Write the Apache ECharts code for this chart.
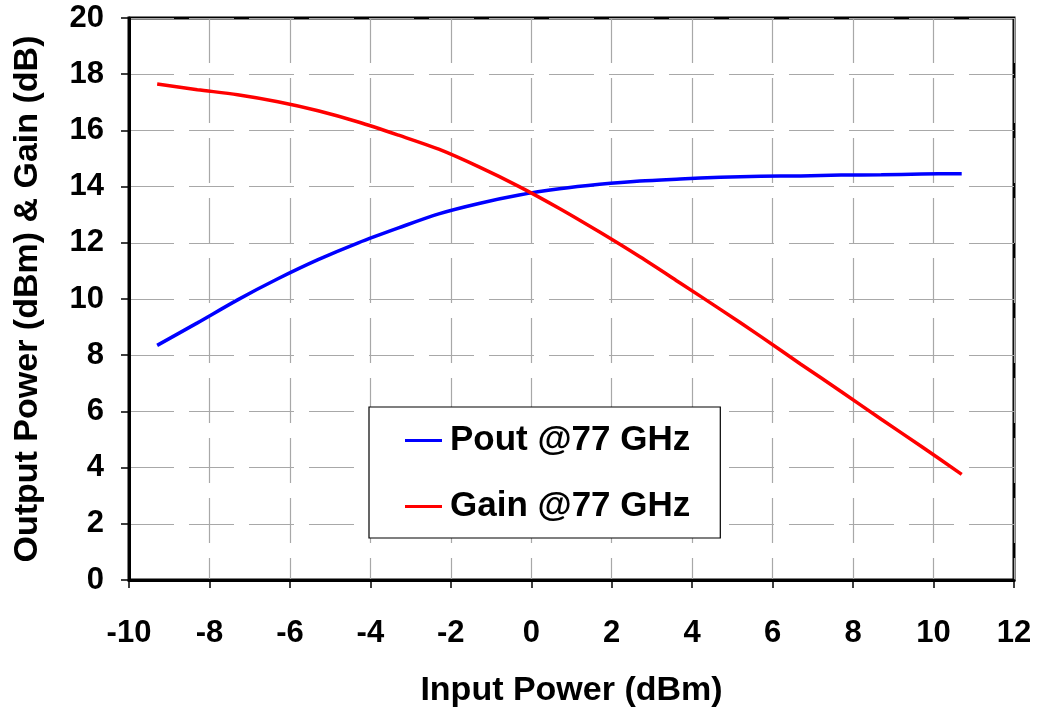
<!DOCTYPE html>
<html><head><meta charset="utf-8">
<script src="https://cdn.jsdelivr.net/npm/echarts@6/dist/echarts.min.js"></script>
<style>html,body{margin:0;padding:0;background:#fff}#c{width:1039px;height:713px}</style>
</head><body><div id="c"></div>
<script>
const inputPower = [-9.3,-8.3,-7.3,-6.3,-5.3,-4.3,-3.3,-2.3,-1.3,-0.3,0.7,1.7,2.7,3.7,4.7,5.7,6.7,7.7,8.7,9.7,10.7];
const poutValues = [8.35,9.15,9.97,10.72,11.4,12.0,12.53,13.03,13.4,13.7,13.92,14.08,14.2,14.27,14.33,14.37,14.38,14.41,14.42,14.45,14.46];
const gainValues = [17.65,17.45,17.27,17.02,16.7,16.3,15.83,15.33,14.7,14.0,13.22,12.38,11.5,10.57,9.63,8.67,7.68,6.71,5.72,4.75,3.76];
const xTicks = [-10,-8,-6,-4,-2,0,2,4,6,8,10,12];
const yTicks = [0,2,4,6,8,10,12,14,16,18,20];
const seriesNames = ['Pout @77 GHz','Gain @77 GHz'];

const FONT = 'Liberation Sans, Arial, Helvetica, sans-serif';
const chart = echarts.init(document.getElementById('c'), null, {renderer:'canvas'});
const gridLine = {show:true, lineStyle:{color:'#a8a8a8', width:1.2, type:[45,15]}};
chart.setOption({
  animation:false,
  backgroundColor:'#fff',
  grid:{left:129, right:25, top:18, bottom:132, show:true, borderColor:'#000', borderWidth:3, backgroundColor:'transparent'},
  xAxis:{type:'value', min:xTicks[0], max:xTicks[xTicks.length-1], interval:2,
    axisLine:{onZero:false, lineStyle:{color:'#000', width:3}},
    axisTick:{show:true, length:8, lineStyle:{color:'#000', width:1.5}},
    axisLabel:{color:'#000', fontFamily:FONT, fontWeight:'bold', fontSize:31, margin:38},
    splitLine:gridLine,
    name:'Input Power (dBm)', nameLocation:'middle', nameGap:94,
    nameTextStyle:{color:'#000', fontFamily:FONT, fontWeight:'bold', fontSize:34}},
  yAxis:{type:'value', min:yTicks[0], max:yTicks[yTicks.length-1], interval:2,
    axisLine:{show:true, onZero:false, lineStyle:{color:'#000', width:3}},
    axisTick:{show:true, length:8, lineStyle:{color:'#000', width:1.5}},
    axisLabel:{color:'#000', fontFamily:FONT, fontWeight:'bold', fontSize:31, margin:25},
    splitLine:gridLine,
    name:'Output Power (dBm) & Gain (dB)', nameLocation:'middle', nameGap:84,
    nameTextStyle:{color:'#000', fontFamily:FONT, fontWeight:'bold', fontSize:34}},
  legend:{orient:'vertical', left:369, top:407, backgroundColor:'#fff', borderColor:'#000', borderWidth:1.2,
    padding:[16,30,14,36], itemGap:31, icon:'rect', itemWidth:37, itemHeight:3,
    textStyle:{color:'#000', fontFamily:FONT, fontWeight:'bold', fontSize:35, lineHeight:35, padding:[0,0,0,3]},
    data:seriesNames},
  series:[
    {name:seriesNames[0], type:'line', data:inputPower.map((x,i)=>[x,poutValues[i]]), showSymbol:false, symbol:'none',
     smooth:0.3, lineStyle:{color:'#0000ff', width:3.5}, itemStyle:{color:'#0000ff'}},
    {name:seriesNames[1], type:'line', data:inputPower.map((x,i)=>[x,gainValues[i]]), showSymbol:false, symbol:'none',
     smooth:0.3, lineStyle:{color:'#ff0000', width:3.5}, itemStyle:{color:'#ff0000'}}
  ]
});
</script></body></html>
